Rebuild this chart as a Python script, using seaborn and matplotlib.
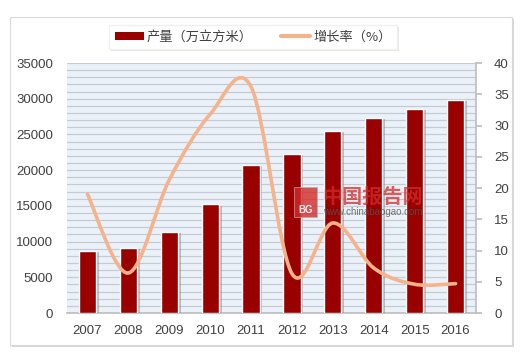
import numpy as np
import pandas as pd
import seaborn as sns
from matplotlib import pyplot as plt
from matplotlib.path import Path
from matplotlib.patches import PathPatch, Rectangle, Patch
from matplotlib.lines import Line2D
import matplotlib.patheffects as pe

years = ['2007', '2008', '2009', '2010', '2011', '2012', '2013', '2014', '2015', '2016']
output = [8680, 9140, 11380, 15210, 20720, 22260, 25480, 27300, 28560, 29820]
growth = [19.0, 6.4, 21.3, 31.8, 36.2, 6.3, 14.4, 7.2, 4.6, 4.7]

bar_color = '#990000'
line_color = '#F5B38C'
text_color = '#404040'

sns.set_theme(style='white')
plt.rcParams['font.family'] = ['Liberation Sans', 'Noto Sans CJK SC', 'DejaVu Sans']

fig = plt.figure(figsize=(5.2, 3.55), dpi=100)

# outer frame with a soft shadow
frame = Rectangle((10 / 520, 1 - 345 / 355), 502 / 520, 328 / 355, transform=fig.transFigure,
                  facecolor='white', edgecolor='#D9D9D9', lw=0.8, zorder=-5)
frame.set_path_effects([pe.SimplePatchShadow(offset=(1.5, -1.5), shadow_rgbFace='#BBBBBB', alpha=0.6), pe.Normal()])
fig.patches.append(frame)

ax = fig.add_axes([67 / 520, 1 - 313 / 355, 409 / 520, 250 / 355])
ax.set_facecolor('#EAF1F8')

df = pd.DataFrame({'year': years, 'output': output})
sns.barplot(data=df, x='year', y='output', color=bar_color, saturation=1, width=0.42, ax=ax, zorder=3)
for p in ax.patches:
    p.set_path_effects([pe.SimplePatchShadow(offset=(2, -1), shadow_rgbFace='#888888', alpha=0.5), pe.Normal()])

ax.set_ylim(0, 35000)
ax.set_xlim(-0.5, 9.5)
ax.set_yticks(np.arange(0, 35001, 5000))
ax.set_yticks(np.arange(0, 35001, 1000), minor=True)
ax.grid(axis='y', which='both', color='#C6CBD1', lw=0.9, zorder=0)
ax.set_axisbelow(True)
ax.set_xlabel('')
ax.set_ylabel('')
for s in ['top', 'right', 'left']:
    ax.spines[s].set_visible(False)
ax.spines['bottom'].set_color('#BFBFBF')
ax.tick_params(axis='both', which='both', length=0, labelsize=9.5, colors=text_color)
ax.tick_params(axis='x', pad=9)
ax.tick_params(axis='y', pad=10)

# growth-rate line, drawn smooth like the source
ax2 = ax.twinx()
ax2.set_ylim(0, 40)
ax2.set_yticks(np.arange(0, 41, 5))
for s in ['top', 'left', 'bottom']:
    ax2.spines[s].set_visible(False)
ax2.spines['right'].set_color('#BFBFBF')
ax2.tick_params(axis='y', length=4, color='#BFBFBF', labelsize=9.5, colors=text_color, pad=9)
ax2.grid(False)

pts = np.column_stack([np.arange(len(growth)), growth])
verts = [pts[0]]
codes = [Path.MOVETO]
n = len(pts)
k = 1 / 6
for i in range(n - 1):
    p0 = pts[max(i - 1, 0)]
    p1 = pts[i]
    p2 = pts[i + 1]
    p3 = pts[min(i + 2, n - 1)]
    verts += [p1 + (p2 - p0) * k, p2 - (p3 - p1) * k, p2]
    codes += [Path.CURVE4] * 3
ax2.add_patch(PathPatch(Path(verts, codes), facecolor='none', edgecolor=line_color,
                        lw=2.6, capstyle='round', zorder=5))

# watermark
logo = Rectangle((294 / 520, 1 - 217 / 355), 23 / 520, 30 / 355, transform=fig.transFigure,
                 facecolor='#D42A2A', edgecolor='#B0B0B0', lw=0.6, alpha=0.8, zorder=10)
fig.patches.append(logo)
fig.text(305.5 / 520, 1 - 210 / 355, 'BG', color='white', fontsize=7, fontweight='bold',
         ha='center', va='center', alpha=0.9, zorder=11)
fig.text(322 / 520, 1 - 196 / 355, '中国报告网', color='#D42A2A', alpha=0.75, fontsize=14.5,
         fontweight='bold', family=['Noto Sans CJK SC'], va='center', zorder=10)
fig.text(323 / 520, 1 - 212 / 355, 'www.chinabaogao.com', color='#555555', alpha=0.8,
         fontsize=7, va='center', zorder=10)

handles = [Patch(facecolor=bar_color, edgecolor='none'),
           Line2D([0], [0], color=line_color, lw=3)]
leg = fig.legend(handles, ['产量（万立方米）', '增长率（%）'], loc='center',
                 bbox_to_anchor=(253 / 520, 1 - 37 / 355), ncol=2, frameon=True,
                 fancybox=False, edgecolor='#F0F0F0', framealpha=1,
                 handlelength=2.2, handleheight=0.6, columnspacing=2.2, handletextpad=0.2,
                 prop={'family': ['Noto Sans CJK SC', 'DejaVu Sans'], 'size': 9.5})
for t in leg.get_texts():
    t.set_color(text_color)
leg.get_frame().set_path_effects([pe.SimplePatchShadow(offset=(1.5, -1.5), shadow_rgbFace='#CCCCCC', alpha=0.5), pe.Normal()])

fig.savefig('out.png', dpi=100)
